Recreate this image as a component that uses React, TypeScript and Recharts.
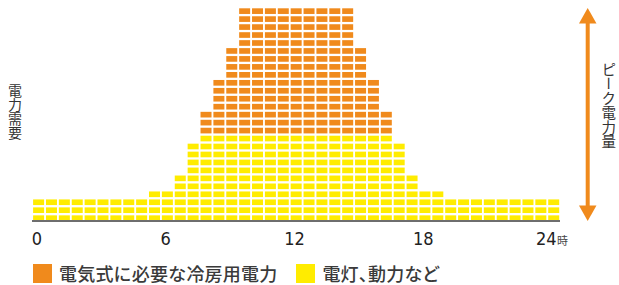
import { BarChart, Bar, XAxis, YAxis } from 'recharts'

// one column every 0.6 h, 0:00 to 24:00
const hours = [0, 0.6, 1.2, 1.8, 2.4, 3, 3.6, 4.2, 4.8, 5.4, 6, 6.6, 7.2, 7.8, 8.4, 9, 9.6, 10.2, 10.8, 11.4, 12, 12.6, 13.2, 13.8, 14.4, 15, 15.6, 16.2, 16.8, 17.4, 18, 18.6, 19.2, 19.8, 20.4, 21, 21.6, 22.2, 22.8, 23.4, 24]

// blocks per column
const lighting = [3, 3, 3, 3, 3, 3, 3, 3, 3, 4, 4, 6, 10, 11, 11, 11, 11, 11, 11, 11, 11, 11, 11, 11, 11, 11, 11, 11, 10, 6, 4, 4, 3, 3, 3, 3, 3, 3, 3, 3, 3]
const cooling = [0, 0, 0, 0, 0, 0, 0, 0, 0, 0, 0, 0, 0, 3, 7, 11, 16, 16, 16, 16, 16, 16, 16, 16, 16, 11, 7, 3, 0, 0, 0, 0, 0, 0, 0, 0, 0, 0, 0, 0, 0]

const tickHours = [0, 6, 12, 18, 24]
const tickLabels = ['0', '6', '12', '18', '24']

const legendItems = [
    { name: '電気式に必要な冷房用電力', color: '#F08A1C' },
    { name: '電灯、動力など', color: '#FFEC00' },
]

const ORANGE = '#F08A1C'
const YELLOW = '#FFEC00'
const AXIS = '#6e6e6e'
const TEXT = '#333333'
const JP = "'Noto Sans CJK JP', 'Noto Sans', sans-serif"

const data = hours.map((h, i) => ({ hour: h, lighting: lighting[i], cooling: cooling[i] }))

// draws a bar as a column of small bricks, one per unit
function blocks(fill: string) {
    return (props: any) => {
        const { x, y, width, height, payload, dataKey } = props
        const n = payload[dataKey]
        if (!n || !height || height <= 0) return <g />
        const step = height / n
        const gap = step * 0.29
        const cells = []
        for (let i = 0; i < n; i++) {
            const bottom = y + height - i * step
            cells.push(<rect key={i} x={x} y={bottom - step + gap} width={width} height={step - gap} fill={fill} />)
        }
        return <g>{cells}</g>
    }
}

function HourTick(props: any) {
    const { x, y, payload } = props
    const idx = tickHours.indexOf(payload.value)
    if (idx < 0) return <g />
    const label = tickLabels[idx]
    return (
        <text x={x - 1.5} y={y + 16} textAnchor="middle" fill="#222" fontSize={18}
            fontFamily="'Liberation Sans Narrow', 'DejaVu Sans Condensed', Roboto, sans-serif">
            {label}
            {payload.value === 24 && (
                <tspan fontSize={11} fontFamily={JP} dx={0.5} fill="#444">時</tspan>
            )}
        </text>
    )
}

export default function App() {
    return (
        <div style={{ position: 'absolute', left: 0, top: 0, width: 619, height: 285, background: '#fff', fontFamily: JP, overflow: 'hidden' }}>
            <BarChart width={619} height={285} data={data} barCategoryGap={1.1}
                margin={{ top: 6, right: 59, bottom: 34, left: 32 }}>
                <XAxis dataKey="hour" height={30} interval={0} ticks={tickHours} tickLine={false}
                    axisLine={{ stroke: AXIS, strokeWidth: 2 }} tick={<HourTick />} />
                <YAxis domain={[0, 27]} width={0} tick={false} tickLine={false}
                    axisLine={{ stroke: AXIS, strokeWidth: 2, transform: 'translate(1.2 0)' }} />
                <Bar dataKey="lighting" stackId="a" fill={YELLOW} shape={blocks(YELLOW)} isAnimationActive={false} />
                <Bar dataKey="cooling" stackId="a" fill={ORANGE} shape={blocks(ORANGE)} isAnimationActive={false} />
            </BarChart>

            {/* y axis title */}
            <div style={{ position: 'absolute', left: 7, top: 84, writingMode: 'vertical-rl', fontSize: 14, lineHeight: '15px', color: TEXT }}>
                電力需要
            </div>

            {/* peak arrow */}
            <svg style={{ position: 'absolute', left: 575, top: 0 }} width={26} height={230}>
                <line x1={12.7} y1={20} x2={12.7} y2={209} stroke={ORANGE} strokeWidth={4} />
                <polygon points="12.7,8 4,23.5 21.5,23.5" fill={ORANGE} />
                <polygon points="12.7,221 4,205.5 21.5,205.5" fill={ORANGE} />
            </svg>
            <div style={{ position: 'absolute', left: 601.3, top: 62, writingMode: 'vertical-rl', fontSize: 14.5, lineHeight: '14px', color: TEXT }}>
                ピーク電力量
            </div>

            {/* legend */}
            <div style={{ position: 'absolute', left: 33, top: 264, display: 'flex', alignItems: 'center' }}>
                {legendItems.map((item, i) => (
                    <div key={item.name} style={{ display: 'flex', alignItems: 'center', marginLeft: i === 0 ? 0 : 19 }}>
                        <div style={{ width: 19, height: 19, background: item.color }} />
                        <span style={{
                            marginLeft: 7, fontSize: 18, lineHeight: '19px', fontWeight: 500, color: '#3a3a3a',
                            letterSpacing: 0.2, fontFeatureSettings: i === 1 ? '"palt"' : 'normal', whiteSpace: 'nowrap',
                        }}>
                            {item.name}
                        </span>
                    </div>
                ))}
            </div>
        </div>
    )
}
